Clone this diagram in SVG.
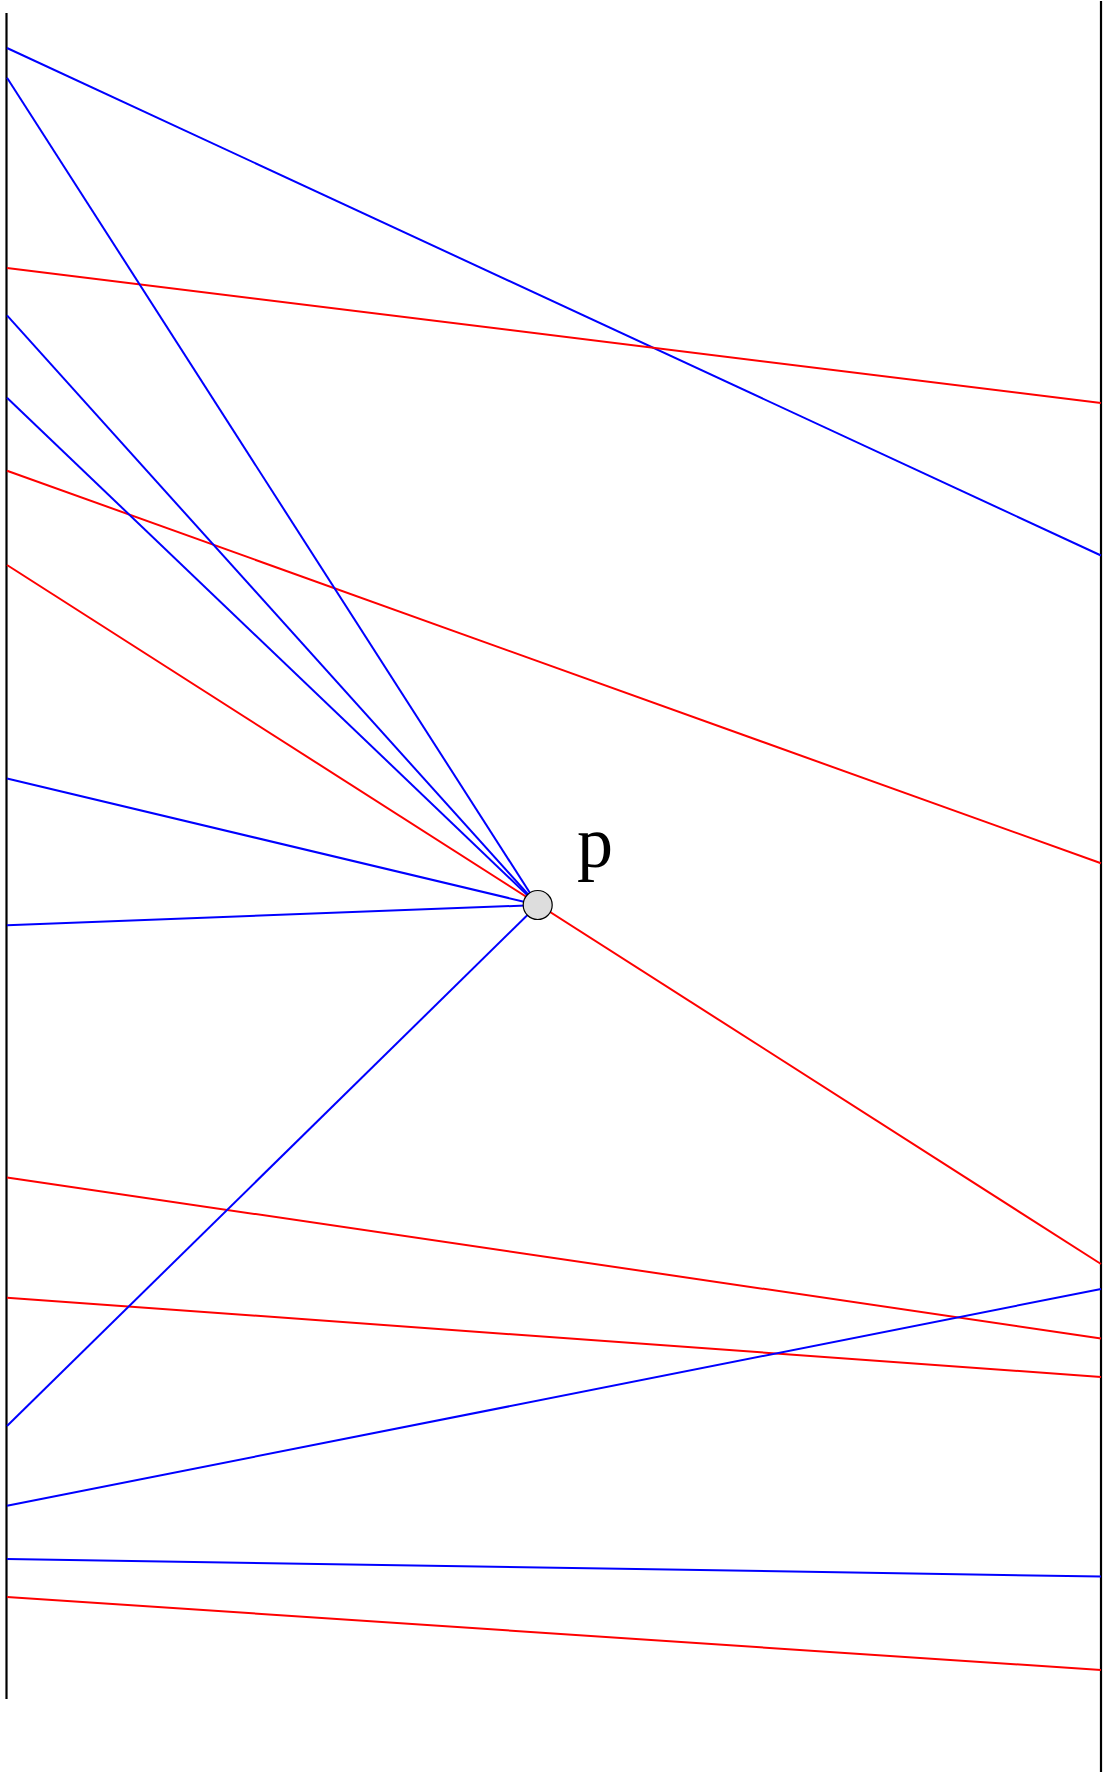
<svg xmlns="http://www.w3.org/2000/svg" width="1103" height="1774" viewBox="0 0 1103 1774">
<style>
.b{stroke:#0000ff;stroke-width:2;fill:none}
.r{stroke:#ff0000;stroke-width:2;fill:none}
.k{stroke:#000;stroke-width:2.2;fill:none}
.lbl{font-family:"Liberation Serif","Times New Roman",serif;font-size:72px;fill:#000}
</style>
<rect width="1103" height="1774" fill="#fff"/>
<g id="walls">
<line class="k" x1="6.5" y1="13" x2="6.5" y2="1699"/>
<line class="k" x1="1101" y1="1" x2="1101" y2="1772"/>
</g>
<g id="connectors">
<line class="b" x1="7" y1="48" x2="1101" y2="555.5"/>
<line class="r" x1="7" y1="268" x2="1101" y2="403"/>
<line class="r" x1="7" y1="470.7" x2="1101" y2="863.3"/>
<line class="r" x1="7" y1="1177.5" x2="1101" y2="1338.5"/>
<line class="r" x1="7" y1="1297.7" x2="1101" y2="1377"/>
<line class="b" x1="7" y1="1505.8" x2="1101" y2="1289"/>
<line class="b" x1="7" y1="1559" x2="1101" y2="1576.5"/>
<line class="r" x1="7" y1="1597" x2="1101" y2="1670"/>
<line class="b" x1="7" y1="77.7" x2="537.7" y2="905"/>
<line class="b" x1="7" y1="315.4" x2="537.7" y2="905"/>
<line class="b" x1="7" y1="397.8" x2="537.7" y2="905"/>
<line class="r" x1="7" y1="565" x2="1101" y2="1264"/>
<line class="b" x1="7" y1="778.5" x2="537.7" y2="905"/>
<line class="b" x1="7" y1="925.3" x2="537.7" y2="905"/>
<line class="b" x1="7" y1="1426" x2="537.7" y2="905"/>
</g>
<g id="p">
<circle cx="537.7" cy="905" r="14.5" fill="#dddddd" stroke="#000" stroke-width="1.2"/>
<text class="lbl" x="577" y="867">p</text>
</g>
</svg>
